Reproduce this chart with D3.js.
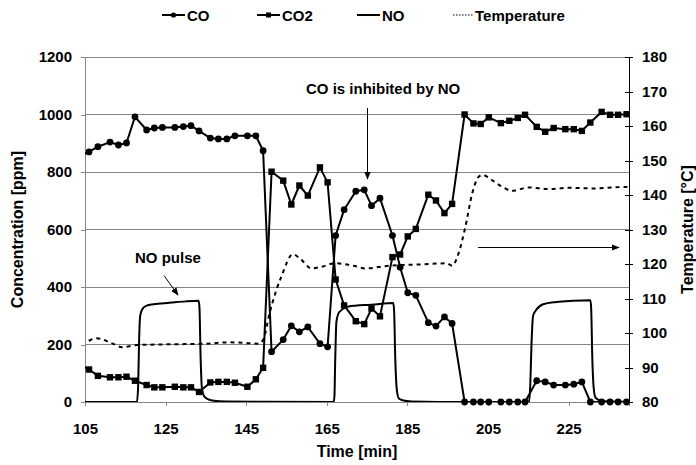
<!DOCTYPE html>
<html>
<head>
<meta charset="utf-8">
<script src="https://cdn.jsdelivr.net/npm/d3@7"></script>
<style>
  html, body { margin: 0; padding: 0; background: #fff; }
  svg text { font-family: "Liberation Sans", Arial, sans-serif; font-weight: bold; fill: #000; }
</style>
</head>
<body>
<svg id="chart" width="696" height="465"></svg>
<script>
// ---------------- DATA ----------------
const sampleTimes = [104, 106, 108.2, 111.2, 113.3, 115.3, 117.4, 120.3, 122.2, 124.2, 127.3, 129.4, 131.3, 133.3,
  136.1, 138.1, 140.2, 142.2, 145.3, 147.4, 149.2, 151.3, 154.2, 156.2, 158.2, 160.3, 163.3, 165.2,
  167.2, 169.3, 172.2, 174.3, 176.1, 178.2, 181.3, 183.2, 185.1, 187.1, 190.2, 192.1, 194.2, 196.1,
  199.2, 201.4, 203.2, 205.2, 208.2, 210.3, 212.4, 214.2, 217.1, 219.2, 221.3, 224.2, 226.3, 228.3,
  230.4, 233.2, 235.3, 237.3, 239.4];

const coValues = [858, 870, 888, 904, 894, 901, 992, 946, 953, 955, 955, 958, 961, 943,
  918, 915, 915, 926, 926, 926, 874, 175, 217, 265, 244, 261, 203, 192,
  579, 669, 733, 738, 683, 709, 579, 469, 380, 371, 276, 264, 296, 273,
  0, 0, 0, 0, 0, 0, 0, 0, 74, 70, 59, 59, 62, 70,
  0, 0, 0, 0, 0];

const co2Values = [128, 113, 91, 86, 86, 88, 74, 59, 51, 51, 53, 51, 51, 35,
  68, 70, 70, 67, 53, 79, 119, 801, 770, 687, 753, 718, 816, 764,
  426, 336, 281, 271, 325, 298, 504, 513, 576, 602, 721, 701, 657, 689,
  1000, 969, 967, 990, 970, 978, 988, 999, 957, 940, 953, 949, 949, 943,
  972, 1009, 999, 999, 1001];

const noTimes = [104, 117.9, 118.2, 118.4, 118.7, 119.3, 120.3, 122, 126, 130, 133.2, 133.4, 133.7, 134.0, 134.5, 135.5, 137, 140, 150, 166.7,
  166.9, 167.1, 167.4, 168.1, 169.9, 172, 176, 181.5, 181.7, 182.0, 182.4, 182.9, 184, 186, 200, 215.2,
  215.5, 215.8, 216.2, 216.9, 218.7, 222, 226, 230.4, 230.6, 230.9, 231.3, 231.7, 232.5, 234, 241];
const noValues = [0, 0, 60, 200, 300, 325, 335, 340, 345, 350, 352, 330, 150, 50, 22, 10, 4, 2, 1, 0,
  20, 150, 280, 313, 330, 335, 338, 344, 320, 150, 40, 12, 5, 2, 0, 0,
  60, 200, 300, 319, 340, 348, 352, 354, 330, 150, 40, 15, 7, 3, 1];

const tempTimes = [104, 105.3, 107.9, 111.7, 114.2, 118, 125, 135, 141, 146, 148, 149.2, 150.8, 152.5, 153.7, 156.6,
  158.7, 161.2, 163.7, 167, 172, 174.5, 180.3, 188.6, 194.8, 196.1, 197.7, 199.4, 201.1, 202.7, 203.7,
  206.0, 208.5, 211, 215.1, 220.1, 225.1, 230.9, 235.8, 241];
const tempValues = [97.2, 97.5, 98.5, 97.0, 95.9, 96.5, 96.7, 96.9, 97.3, 97.0, 96.9, 98.0, 105.7, 112.5, 116.3, 122.8,
  121.2, 118.7, 119.2, 120.2, 119.4, 118.7, 119.5, 119.9, 120.2, 119.5, 123.1, 130.8, 140.5, 145.3, 145.8,
  144.3, 142.4, 141.2, 142.2, 141.7, 142.1, 141.9, 142.2, 142.4];

const xTicks = [105, 125, 145, 165, 185, 205, 225];
const yLeftTicks = [0, 200, 400, 600, 800, 1000, 1200];
const yRightTicks = [80, 90, 100, 110, 120, 130, 140, 150, 160, 170, 180];
const legendLabels = ["CO", "CO2", "NO", "Temperature"];

// ---------------- LAYOUT ----------------
const svg = d3.select("#chart");
const m = { left: 85, right: 629, top: 57, bottom: 402 };

const x = d3.scaleLinear().domain([105, 240]).range([m.left, m.right]);
const yL = d3.scaleLinear().domain([0, 1200]).range([m.bottom, m.top]);
const yR = d3.scaleLinear().domain([80, 180]).range([m.bottom, m.top]);

const grid = "#868686";

const defs = svg.append("defs");
defs.append("clipPath").attr("id", "clip")
  .append("rect").attr("x", m.left).attr("y", m.top - 10).attr("width", m.right - m.left + 4).attr("height", m.bottom - m.top + 16);
defs.append("clipPath").attr("id", "clipInner")
  .append("rect").attr("x", m.left).attr("y", m.top).attr("width", m.right - m.left).attr("height", m.bottom - m.top);

// arrowhead marker
defs.append("marker")
  .attr("id", "arrow").attr("viewBox", "0 0 10 10").attr("refX", 9).attr("refY", 5)
  .attr("markerWidth", 8).attr("markerHeight", 8).attr("markerUnits", "userSpaceOnUse")
  .attr("orient", "auto")
  .append("path").attr("d", "M0,1 L10,5 L0,9 Z").attr("fill", "#000");

// gridlines
svg.append("g").selectAll("line").data(yLeftTicks.filter(d => d > 0)).join("line")
  .attr("x1", m.left).attr("x2", m.right)
  .attr("y1", d => yL(d)).attr("y2", d => yL(d))
  .attr("stroke", grid).attr("stroke-width", 1).attr("shape-rendering", "crispEdges");

// left axis
const gL = svg.append("g").attr("transform", `translate(${m.left},0)`)
  .call(d3.axisLeft(yL).tickValues(yLeftTicks).tickSize(4).tickPadding(9).tickFormat(d3.format("d")));
gL.selectAll("path, line").attr("stroke", grid).attr("shape-rendering", "crispEdges");
gL.selectAll("text").attr("font-size", 15).style("font-family", "Liberation Sans, Arial, sans-serif").style("font-weight", "bold");

// bottom axis
const gB = svg.append("g").attr("transform", `translate(0,${m.bottom})`)
  .call(d3.axisBottom(x).tickValues(xTicks).tickSize(4).tickPadding(17).tickFormat(d3.format("d")));
gB.selectAll("path, line").attr("stroke", grid).attr("shape-rendering", "crispEdges");
gB.selectAll("text").attr("font-size", 15).style("font-family", "Liberation Sans, Arial, sans-serif").style("font-weight", "bold");

// right axis
const gR = svg.append("g").attr("transform", `translate(${m.right},0)`)
  .call(d3.axisRight(yR).tickValues(yRightTicks).tickSizeInner(4).tickSizeOuter(0).tickPadding(9).tickFormat(d3.format("d")));
gR.selectAll(".tick line").attr("x1", -4).attr("x2", 4);
gR.selectAll("path, line").attr("stroke", "#000").attr("shape-rendering", "crispEdges");
gR.selectAll("text").attr("font-size", 15).style("font-family", "Liberation Sans, Arial, sans-serif").style("font-weight", "bold");

// ---------------- SERIES ----------------
const coData = sampleTimes.map((t, i) => ({ t, v: coValues[i] }));
const co2Data = sampleTimes.map((t, i) => ({ t, v: co2Values[i] }));
const noData = noTimes.map((t, i) => ({ t, v: noValues[i] }));
const tempData = tempTimes.map((t, i) => ({ t, v: tempValues[i] }));

const lineL = d3.line().x(d => x(d.t)).y(d => yL(d.v));
const lineSmooth = d3.line().x(d => x(d.t)).y(d => yL(d.v)).curve(d3.curveMonotoneX);
const lineT = d3.line().x(d => x(d.t)).y(d => yR(d.v)).curve(d3.curveMonotoneX);

const plotInner = svg.append("g").attr("clip-path", "url(#clipInner)");

plotInner.append("path").datum(tempData)
  .attr("d", lineT).attr("fill", "none").attr("stroke", "#000")
  .attr("stroke-width", 2).attr("stroke-dasharray", "4,4");

plotInner.append("path").datum(noData)
  .attr("d", lineSmooth).attr("fill", "none").attr("stroke", "#000").attr("stroke-width", 2);

plotInner.append("path").datum(co2Data)
  .attr("d", lineL).attr("fill", "none").attr("stroke", "#000").attr("stroke-width", 2).attr("stroke-linejoin", "round");

plotInner.append("path").datum(coData)
  .attr("d", lineL).attr("fill", "none").attr("stroke", "#000").attr("stroke-width", 2).attr("stroke-linejoin", "round");

const plot = svg.append("g").attr("clip-path", "url(#clip)");
plot.append("g").selectAll("rect").data(co2Data.filter(d => d.t >= 105)).join("rect")
  .attr("x", d => x(d.t) - 3.2).attr("y", d => yL(d.v) - 3.2)
  .attr("width", 6.4).attr("height", 6.4).attr("fill", "#000");

plot.append("g").selectAll("circle").data(coData.filter(d => d.t >= 105)).join("circle")
  .attr("cx", d => x(d.t)).attr("cy", d => yL(d.v)).attr("r", 3.4).attr("fill", "#000");

// right axis line on top
svg.append("line").attr("x1", m.right).attr("x2", m.right).attr("y1", m.top).attr("y2", m.bottom)
  .attr("stroke", "#000").attr("stroke-width", 1).attr("shape-rendering", "crispEdges");

// ---------------- ANNOTATIONS ----------------
svg.append("text").attr("x", 306).attr("y", 94).attr("font-size", 15).text("CO is inhibited by NO");
svg.append("line").attr("x1", 367.5).attr("y1", 108).attr("x2", 367.5).attr("y2", 179)
  .attr("stroke", "#000").attr("stroke-width", 1).attr("marker-end", "url(#arrow)");

svg.append("text").attr("x", 135).attr("y", 263).attr("font-size", 15).text("NO pulse");
svg.append("line").attr("x1", 164).attr("y1", 275.5).attr("x2", 178).attr("y2", 295)
  .attr("stroke", "#000").attr("stroke-width", 1).attr("marker-end", "url(#arrow)");

svg.append("line").attr("x1", 478).attr("y1", 247.5).attr("x2", 619).attr("y2", 247.5)
  .attr("stroke", "#000").attr("stroke-width", 1).attr("marker-end", "url(#arrow)");

// ---------------- AXIS TITLES ----------------
svg.append("text").attr("x", (m.left + m.right) / 2).attr("y", 457).attr("text-anchor", "middle")
  .attr("font-size", 16).text("Time [min]");
svg.append("text").attr("transform", `translate(23,${(m.top + m.bottom) / 2}) rotate(-90)`)
  .attr("text-anchor", "middle").attr("font-size", 16).text("Concentration [ppm]");
svg.append("text").attr("transform", `translate(693,${(m.top + m.bottom) / 2}) rotate(-90)`)
  .attr("text-anchor", "middle").attr("font-size", 16).text("Temperature [°C]");

// ---------------- LEGEND ----------------
const legendX = [162, 257, 357, 453];
const legendY = 15;
const lg = svg.append("g");
legendLabels.forEach((lab, i) => {
  const x0 = legendX[i];
  const w = i === 3 ? 20 : 23;
  const ln = lg.append("line").attr("x1", x0).attr("x2", x0 + w).attr("y1", legendY).attr("y2", legendY)
    .attr("stroke", "#000").attr("stroke-width", 2);
  if (i === 3) ln.attr("stroke-width", 1.2).attr("stroke-dasharray", "1.5,1.5");
  if (i === 0) lg.append("circle").attr("cx", x0 + w / 2).attr("cy", legendY).attr("r", 2.6).attr("fill", "#000");
  if (i === 1) lg.append("rect").attr("x", x0 + w / 2 - 2.5).attr("y", legendY - 2.5).attr("width", 5).attr("height", 5).attr("fill", "#000");
  lg.append("text").attr("x", x0 + w + 2).attr("y", legendY + 5.5).attr("font-size", 15).text(lab);
});
</script>
</body>
</html>
